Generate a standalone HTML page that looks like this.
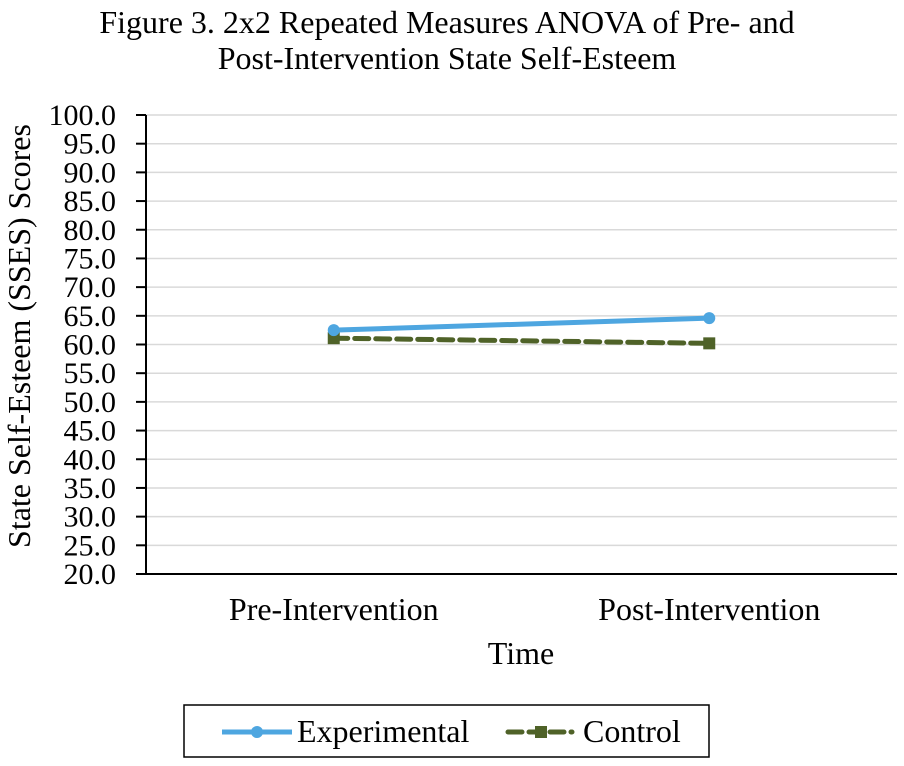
<!DOCTYPE html>
<html><head><meta charset="utf-8"><style>
body{margin:0;background:#fff;}
svg text{font-family:"Liberation Serif",serif;fill:#000;}
</style></head><body>
<svg width="904" height="761" id="chart">
<text x="447" y="33" font-size="32" text-anchor="middle">Figure 3. 2x2 Repeated Measures ANOVA of Pre- and</text>
<text x="447" y="69" font-size="32" text-anchor="middle">Post-Intervention State Self-Esteem</text>
<g id="grid"></g><g id="yticks"></g><g id="xticks"></g><g id="series"></g>
<line x1="146" y1="115" x2="146" y2="575" stroke="#000" stroke-width="2"/>
<line x1="136" y1="574" x2="897" y2="574" stroke="#000" stroke-width="2"/>
<text transform="translate(30,336) rotate(-90)" font-size="32" text-anchor="middle">State Self-Esteem (SSES) Scores</text>
<text x="521" y="664" font-size="32" text-anchor="middle">Time</text>
<g>
<rect x="184" y="705" width="525" height="52" fill="#fff" stroke="#000" stroke-width="1.5"/>
<g>
<line x1="222" y1="732" x2="292" y2="732" stroke="#4ea6e0" stroke-width="5"/>
<circle cx="257" cy="732" r="6" fill="#4ea6e0"/>
<text x="297" y="742" font-size="32">Experimental</text></g>
<g>
<line x1="508" y1="732" x2="572" y2="732" stroke="#4f6228" stroke-width="5" stroke-dasharray="14,7" stroke-linecap="round"/>
<rect x="535" y="726" width="12" height="12" fill="#4f6228"/>
<text x="583" y="742" font-size="32">Control</text></g>
</g>
</svg>
<script>
const categories=["Pre-Intervention","Post-Intervention"];
const experimental=[62.5,64.6];
const control=[61.1,60.2];
const yTicks=[20,25,30,35,40,45,50,55,60,65,70,75,80,85,90,95,100];
const NS="http://www.w3.org/2000/svg";
const L=146,R=897,T=115,B=574,ymin=20,ymax=100;
const ys=v=>B-(v-ymin)/(ymax-ymin)*(B-T);
const band=(R-L)/categories.length;
const xs=i=>L+band*(i+0.5);
function mk(t,a,p){const e=document.createElementNS(NS,t);for(const k in a)e.setAttribute(k,a[k]);p.appendChild(e);return e;}
const grid=document.getElementById('grid'),yt=document.getElementById('yticks'),xt=document.getElementById('xticks'),se=document.getElementById('series');
yTicks.forEach(v=>{
 if(v>ymin){const g=mk('line',{x1:L,x2:R,y1:ys(v),y2:ys(v),stroke:'#d9d9d9','stroke-width':1.5},grid);
 
 }
 const tk=mk('line',{x1:L-10,x2:L,y1:ys(v),y2:ys(v),stroke:'#000','stroke-width':2},yt);
 
 
 const t=mk('text',{x:L-30,y:ys(v)+10,'font-size':30,'text-anchor':'end'},yt);t.textContent=v.toFixed(1);
 
 
});
categories.forEach((c,i)=>{const t=mk('text',{x:xs(i),y:620,'font-size':32,'text-anchor':'middle'},xt);t.textContent=c;
 
 });
function line(data,color,dash,name,marker){
 const g=mk('g',{},se);
 
 
 const pts=data.map((v,i)=>xs(i)+','+ys(v)).join(' ');
 const a={points:pts,fill:'none',stroke:color,'stroke-width':5};
 if(dash){a['stroke-dasharray']='14,7';a['stroke-linecap']='round';}
 mk('polyline',a,g);
 data.forEach((v,i)=>{let m;
  if(marker==='c')m=mk('circle',{cx:xs(i),cy:ys(v),r:6,fill:color},g);
  else m=mk('rect',{x:xs(i)-6,y:ys(v)-6,width:12,height:12,fill:color},g);
  
  });
}
line(control,'#4f6228',true,'series-control','s');
line(experimental,'#4ea6e0',false,'series-experimental','c');
</script>
</body></html>
